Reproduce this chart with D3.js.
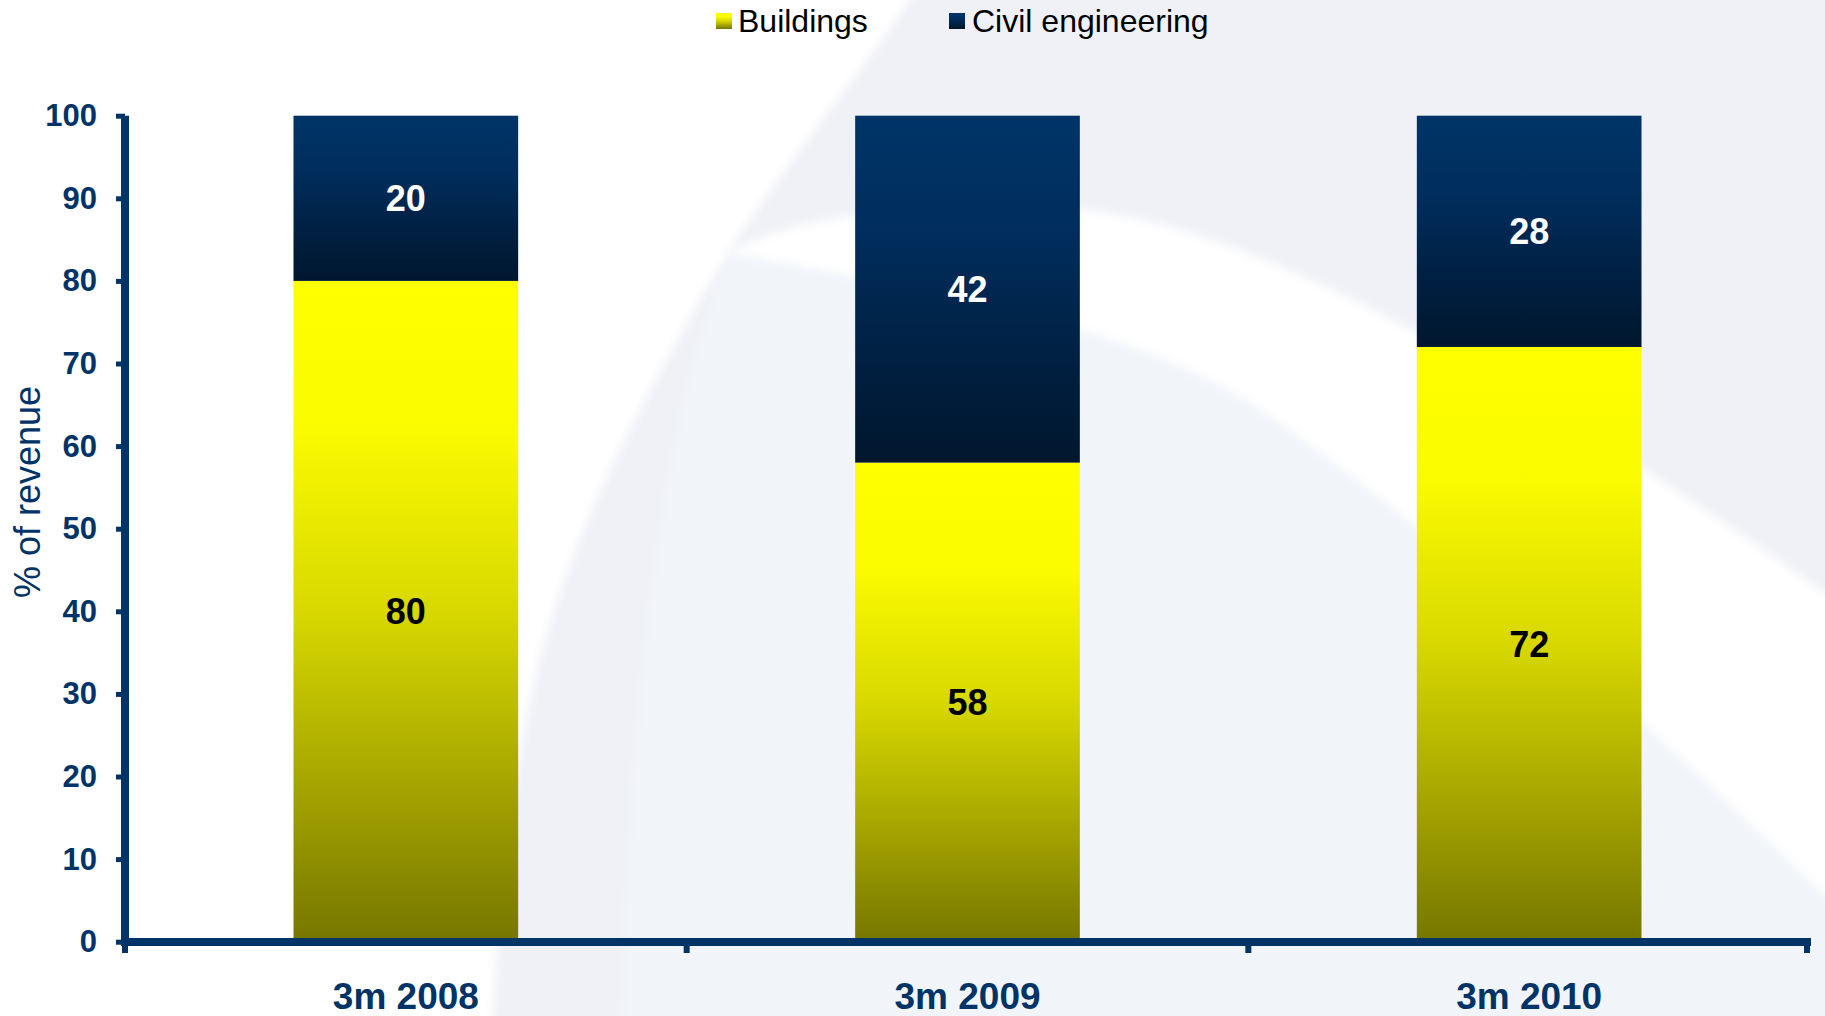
<!DOCTYPE html>
<html>
<head>
<meta charset="utf-8">
<script src="https://cdn.jsdelivr.net/npm/d3@7/dist/d3.min.js"></script>
<style>
  html, body { margin: 0; padding: 0; background: #fff; }
  svg { display: block; font-family: "Liberation Sans", Arial, sans-serif; }
</style>
</head>
<body>
<svg id="chart" width="1825" height="1016"></svg>
<script>
// ---- data ----
const categories = ["3m 2008", "3m 2009", "3m 2010"];
const seriesNames = ["Buildings", "Civil engineering"];
const buildings = [80, 58, 72];
const civilEngineering = [20, 42, 28];
const yTicks = [0, 10, 20, 30, 40, 50, 60, 70, 80, 90, 100];
const yTitle = "% of revenue";

const W = 1825, H = 1016;
const navy = "#003366";
const svg = d3.select("#chart");
const defs = svg.append("defs");

// gradients
const gY = defs.append("linearGradient").attr("id", "gYellow")
  .attr("x1", 0).attr("y1", 0).attr("x2", 0).attr("y2", 1);
[[0, "#ffff00"], [0.22, "#fbfb00"], [0.5, "#d8d800"], [1, "#767600"]]
  .forEach(([o, c]) => gY.append("stop").attr("offset", o).attr("stop-color", c));
const gB = defs.append("linearGradient").attr("id", "gBlue")
  .attr("x1", 0).attr("y1", 0).attr("x2", 0).attr("y2", 1);
[[0, "#003468"], [0.35, "#002d5c"], [0.75, "#001e3e"], [1, "#00172e"]]
  .forEach(([o, c]) => gB.append("stop").attr("offset", o).attr("stop-color", c));
defs.append("filter").attr("id", "soft").attr("x", -0.05).attr("y", -0.05)
  .attr("width", 1.1).attr("height", 1.1)
  .append("feGaussianBlur").attr("stdDeviation", 5);

// ---- decorative background ----
svg.append("rect").attr("width", W).attr("height", H).attr("fill", "#ffffff");
const bg = svg.append("g").attr("filter", "url(#soft)");
// large grey-blue area right of a big arc
bg.append("path")
  .attr("d", "M936,-40 C860,80 760,190 700,300 C620,440 560,560 530,700 C510,800 497,900 491,1060 L1870,1060 L1870,-40 Z")
  .attr("fill", "#eff1f6");
// light bluish area below the swoosh
bg.append("path")
  .attr("d", "M730,253 C1000,300 1150,340 1246,400 C1400,500 1650,720 1870,940 L1870,1060 L620,1060 C630,700 660,420 730,253 Z")
  .attr("fill", "#f1f5fa");
// white swoosh band
bg.append("path")
  .attr("d", "M730,253 C780,220 900,200 1080,210 C1250,225 1500,360 1870,625 L1870,940 C1650,720 1400,500 1246,400 C1150,340 1000,300 730,253 Z")
  .attr("fill", "#ffffff");

// ---- scales ----
const y = d3.scaleLinear().domain([0, 100]).range([941.7, 115.7]);
const x = d3.scaleBand().domain(categories).range([125, 1810]).padding(0);
const barW = x.bandwidth() * 0.4;

// ---- bars ----
const g = svg.append("g");
categories.forEach((c, i) => {
  const cx = x(c) + x.bandwidth() / 2;
  const b = buildings[i], v = civilEngineering[i];
  g.append("rect").attr("x", cx - barW / 2).attr("width", barW)
    .attr("y", y(b)).attr("height", y(0) - y(b)).attr("fill", "url(#gYellow)");
  g.append("rect").attr("x", cx - barW / 2).attr("width", barW)
    .attr("y", y(b + v)).attr("height", y(b) - y(b + v)).attr("fill", "url(#gBlue)");
  g.append("text").attr("x", cx).attr("y", y(b / 2)).attr("dy", "0.36em")
    .attr("text-anchor", "middle").attr("font-weight", "bold").attr("font-size", 36)
    .attr("fill", "#000").text(b);
  g.append("text").attr("x", cx).attr("y", y(b + v / 2)).attr("dy", "0.36em")
    .attr("text-anchor", "middle").attr("font-weight", "bold").attr("font-size", 36)
    .attr("fill", "#fff").text(v);
});

// ---- y axis ----
const yAxis = svg.append("g").attr("transform", "translate(125,0)")
  .call(d3.axisLeft(y).tickValues(yTicks).tickSize(9).tickPadding(19).tickSizeOuter(0));
yAxis.select(".domain").remove();
yAxis.selectAll(".tick line").attr("stroke", navy).attr("stroke-width", 5);
yAxis.selectAll(".tick text").attr("fill", navy).attr("font-size", 31)
  .attr("font-weight", "bold").attr("font-family", "Liberation Sans, Arial, sans-serif");
svg.append("line").attr("x1", 125).attr("x2", 125).attr("y1", y(100)).attr("y2", 946)
  .attr("stroke", navy).attr("stroke-width", 8);

// ---- x axis ----
const xAxis = svg.append("g").attr("transform", "translate(0,942)")
  .call(d3.axisBottom(x).tickSize(0).tickPadding(0));
xAxis.select(".domain").remove();
xAxis.selectAll(".tick text").attr("fill", navy).attr("font-size", 37)
  .attr("font-weight", "bold").attr("font-family", "Liberation Sans, Arial, sans-serif")
  .attr("dy", null).attr("y", 67);
svg.append("line").attr("x1", 121).attr("x2", 1811).attr("y1", 942).attr("y2", 942)
  .attr("stroke", navy).attr("stroke-width", 8);
const bounds = categories.map(c => x(c)).concat([x.range()[1]]);
svg.selectAll(".xb").data(bounds).enter().append("line")
  .attr("x1", d => d === x.range()[1] ? d - 3 : d).attr("x2", d => d === x.range()[1] ? d - 3 : d)
  .attr("y1", 942).attr("y2", 953)
  .attr("stroke", navy).attr("stroke-width", 6);

// ---- y title ----
svg.append("text").attr("transform", "translate(40,492) rotate(-90)")
  .attr("text-anchor", "middle").attr("font-size", 36).attr("fill", navy).text(yTitle);

// ---- legend ----
const legendItems = [
  { name: seriesNames[0], fill: "url(#gYellow)", sx: 716, tx: 738 },
  { name: seriesNames[1], fill: "url(#gBlue)", sx: 949, tx: 972 }
];
const lg = svg.append("g");
legendItems.forEach(d => {
  lg.append("rect").attr("x", d.sx).attr("y", 13).attr("width", 16).attr("height", 16)
    .attr("fill", d.fill);
  lg.append("text").attr("x", d.tx).attr("y", 32).attr("font-size", 32)
    .attr("fill", "#000").text(d.name);
});
</script>
</body>
</html>
